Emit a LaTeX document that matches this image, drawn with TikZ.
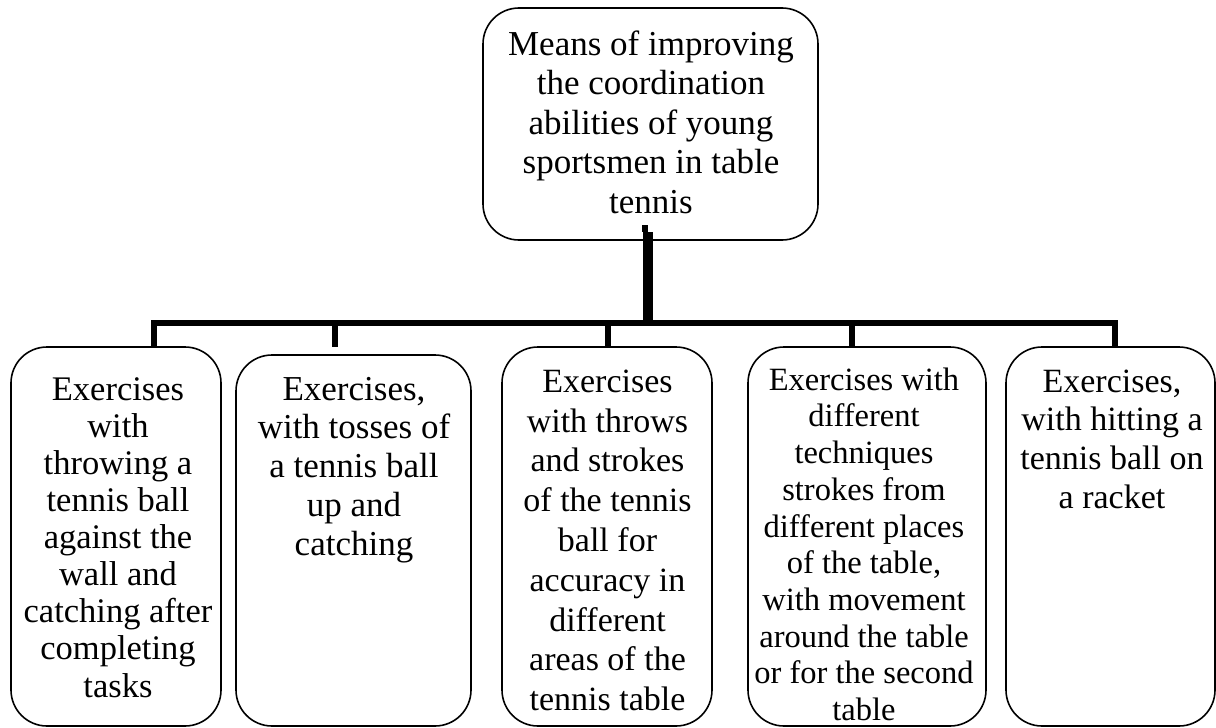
\documentclass[tikz,border=0pt]{standalone}
\usepackage{fontspec}
\setmainfont{Liberation Serif}
\usetikzlibrary{calc}
\newcommand{\fl}{\rule{0pt}{30pt}}
\begin{document}
\begin{tikzpicture}[x=1pt,y=-1pt,
  box/.style={draw=black, line width=1.6pt, rounded corners=36pt, inner sep=0pt, outer sep=0pt},
  txt/.style={align=center, inner sep=0pt, anchor=north},
  bus/.style={line width=6pt, line join=miter, line cap=butt},
  trunk/.style={line width=10pt, line cap=butt}]
\useasboundingbox (0,0) rectangle (1216,728);

% boxes
\node[box, minimum width=335pt, minimum height=232pt] (top) at (650.5,124) {};
\node[box, minimum width=210pt, minimum height=379pt] (b1) at (116,536.5) {};
\node[box, minimum width=235pt, minimum height=371pt] (b2) at (353.5,540.5) {};
\node[box, minimum width=210pt, minimum height=379pt] (b3) at (607,536.5) {};
\node[box, minimum width=238pt, minimum height=379pt] (b4) at (867,536.5) {};
\node[box, minimum width=209pt, minimum height=379pt] (b5) at (1110.5,536.5) {};

% texts
\node[txt, font=\fontsize{35}{39.5}\selectfont] (ttop) at (651,25)
  {\fl Means of improving\\the coordination\\abilities of young\\sportsmen in table\\tennis};
\node[txt, font=\fontsize{34.5}{37.1}\selectfont] (t1) at (118,370)
  {\fl Exercises\\with\\throwing a\\tennis ball\\against the\\wall and\\catching after\\completing\\tasks};
\node[txt, font=\fontsize{35}{38.7}\selectfont] (t2) at (354,370)
  {\fl Exercises,\\with tosses of\\a tennis ball\\up and\\catching};
\node[txt, font=\fontsize{34}{39.8}\selectfont] (t3) at (607.5,362)
  {\fl Exercises\\with throws\\and strokes\\of the tennis\\ball for\\accuracy in\\different\\areas of the\\tennis table};
\node[txt, font=\fontsize{32.5}{36.7}\selectfont] (t4) at (864,360)
  {\fl Exercises with\\different\\techniques\\strokes from\\different places\\of the table,\\with movement\\around the table\\or for the second\\table};
\node[txt, font=\fontsize{34}{38.7}\selectfont] (t5) at (1112,362)
  {\fl Exercises,\\with hitting a\\tennis ball on\\a racket};

% connectors
\coordinate (tt) at (650.5,232);
\coordinate (jc) at (647.5,323);
\coordinate (j1) at (153.5,323);
\coordinate (j2) at (335,323);
\coordinate (j3) at (607.5,323);
\coordinate (j4) at (852,323);
\coordinate (j5) at (1114.5,323);
\coordinate (e2) at ($(b2.north)+(0,-8)$);

\fill (642,225) rectangle (648,232);
\draw[trunk] (jc |- tt) -- (jc);
\draw[bus] (j1 |- b1.north) -- (j1) -- (j5) -- (j5 |- b5.north);
\draw[bus] (j2) -- (j2 |- e2);
\draw[bus] (j3) -- (j3 |- b3.north);
\draw[bus] (j4) -- (j4 |- b4.north);
\end{tikzpicture}
\end{document}
